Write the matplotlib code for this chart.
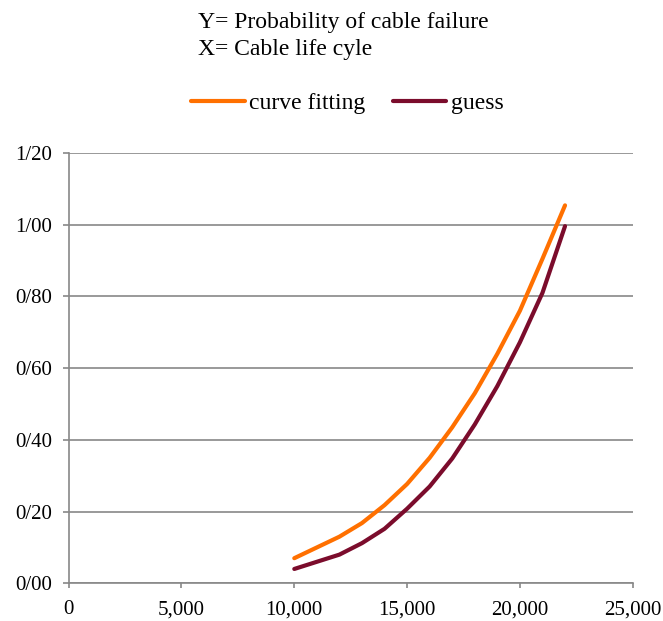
import matplotlib
matplotlib.use("Agg")
import matplotlib.pyplot as plt

# data
life_cycle = [10000, 11000, 12000, 13000, 14000, 15000, 16000,
              17000, 18000, 19000, 20000, 21000, 22000]
curve_fitting = [0.070, 0.100, 0.130, 0.168, 0.218, 0.277, 0.350,
                 0.435, 0.530, 0.640, 0.760, 0.905, 1.054]
guess = [0.040, 0.060, 0.080, 0.112, 0.152, 0.208, 0.270,
         0.348, 0.443, 0.550, 0.672, 0.810, 0.996]

x_ticks = [0, 5000, 10000, 15000, 20000, 25000]
x_tick_labels = ["0", "5,000", "10,000", "15,000", "20,000", "25,000"]
y_ticks = [0.0, 0.2, 0.4, 0.6, 0.8, 1.0, 1.2]
y_tick_labels = ["0/00", "0/20", "0/40", "0/60", "0/80", "1/00", "1/20"]

plt.rcParams["font.family"] = ["Liberation Serif", "DejaVu Serif"]
grid_color = "#888888"

fig = plt.figure(figsize=(6.63, 6.21), dpi=100)
ax = fig.add_axes([0.1036, 0.0607, 0.8507, 0.6929])

ax.plot(life_cycle, curve_fitting, color="#ff7000", linewidth=3.0,
        solid_capstyle="round", label="curve fitting")
ax.plot(life_cycle, guess, color="#7b0c2c", linewidth=3.0,
        solid_capstyle="round", label="guess")

ax.set_xlim(0, 25000)
ax.set_ylim(0, 1.2)
ax.set_xticks(x_ticks)
ax.set_xticklabels(x_tick_labels)
ax.set_yticks(y_ticks)
ax.set_yticklabels(y_tick_labels)
ax.tick_params(axis="both", labelsize=15, color=grid_color, width=1.2)
ax.tick_params(axis="x", length=3.6, pad=8.5)
ax.tick_params(axis="y", length=4.3, pad=7.5)

ax.grid(axis="y", color=grid_color, linewidth=1.2)
ax.set_axisbelow(True)
for side in ["top", "right"]:
    ax.spines[side].set_visible(False)
for side in ["left", "bottom"]:
    ax.spines[side].set_color(grid_color)
    ax.spines[side].set_linewidth(1.2)

fig.text(0.2986, 0.9544, "Y= Probability of cable failure", fontsize=17, va="baseline")
fig.text(0.2986, 0.9114, "X= Cable life cyle", fontsize=17, va="baseline")

fig.legend(loc="center", bbox_to_anchor=(0.524, 0.834), ncol=2, frameon=False,
           fontsize=17, handlelength=2.25, handletextpad=0.2, columnspacing=1.15)

fig.savefig("out.png", dpi=100)
